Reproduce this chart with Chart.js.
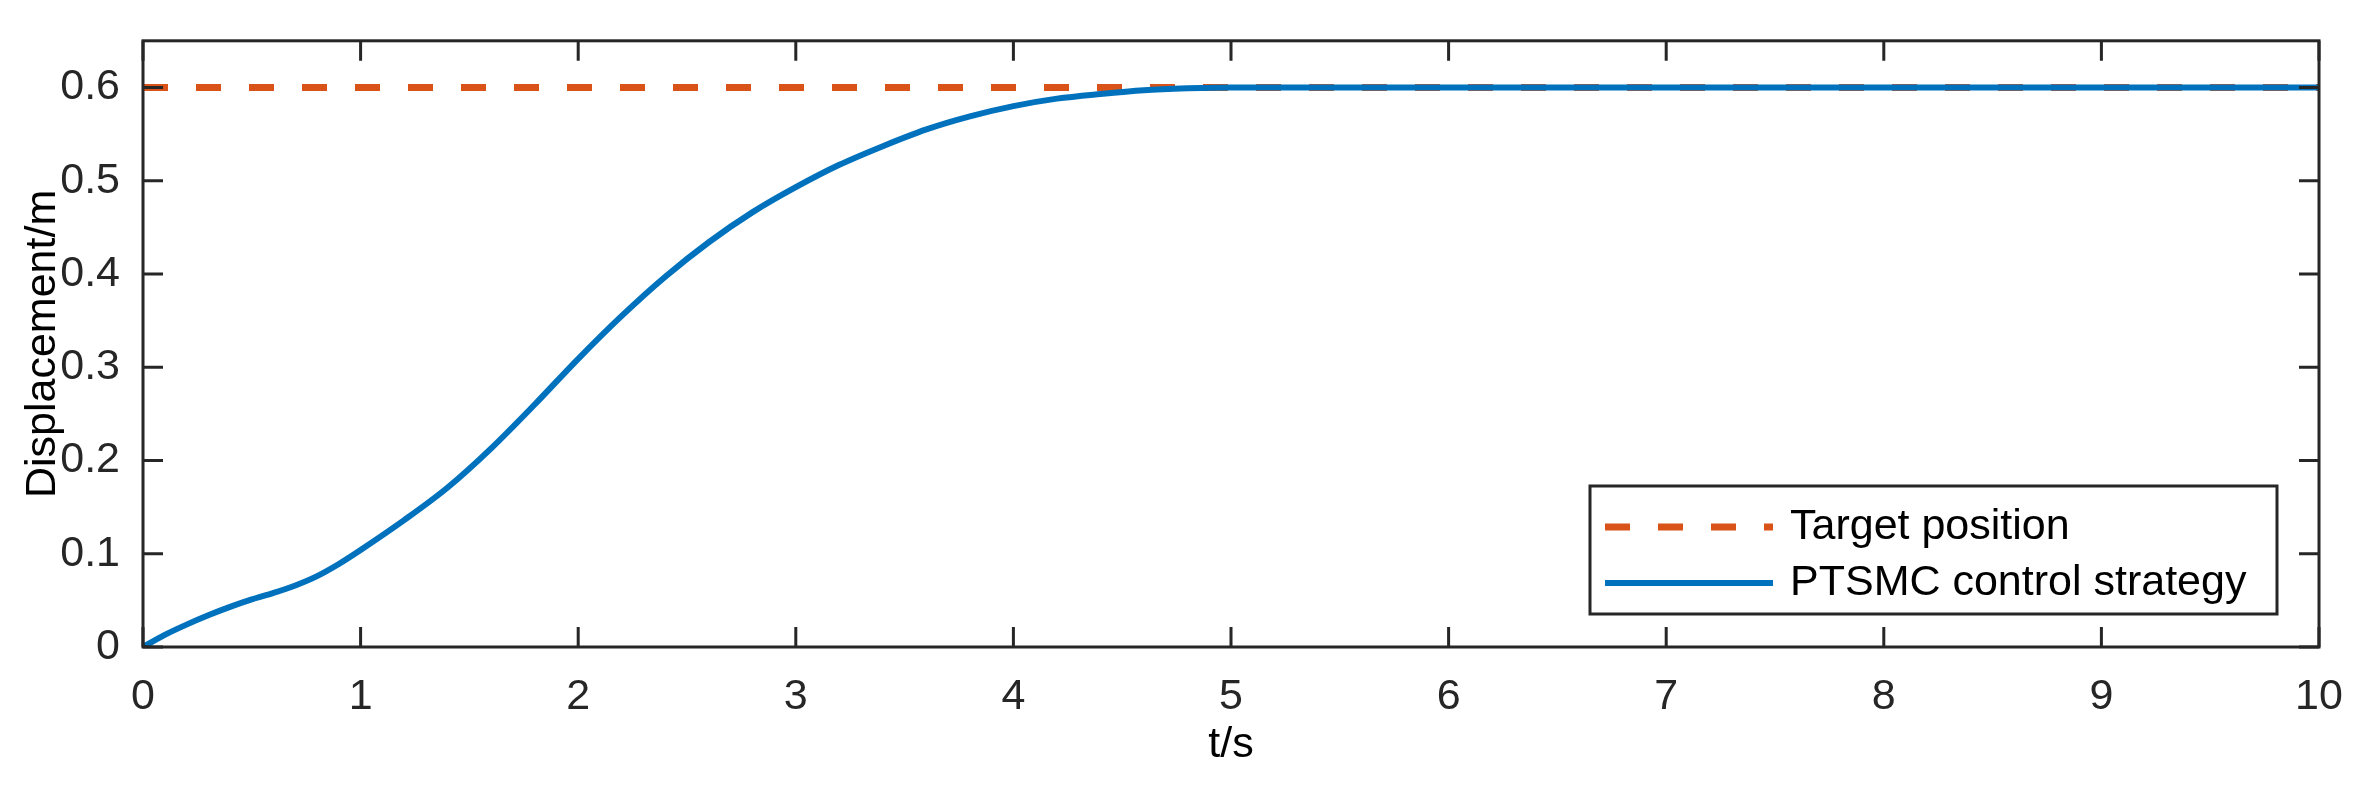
<!DOCTYPE html>
<html>
<head>
<meta charset="utf-8">
<script src="https://cdn.jsdelivr.net/npm/chart.js@4.4.1/dist/chart.umd.min.js"></script>
<style>
  html, body { margin: 0; padding: 0; background: #fff; }
  #wrap { width: 2375px; height: 799px; }
</style>
</head>
<body>
<div id="wrap"><canvas id="myChart" width="2375" height="799"></canvas></div>
<script>
// datos: tiempo (s) y desplazamiento (m)
const tiempo = [0, 0.1, 0.2, 0.3, 0.4, 0.5, 0.6, 0.7, 0.8, 0.9, 1.0, 1.2, 1.4, 1.6, 1.8, 2.0, 2.2, 2.4, 2.6, 2.8, 3.0, 3.2, 3.4, 3.6, 3.8, 4.0, 4.2, 4.4, 4.6, 4.8, 5.0, 6, 7, 8, 9, 10];
const desplazamiento = [0, 0.013, 0.024, 0.034, 0.043, 0.051, 0.058, 0.066, 0.076, 0.089, 0.104, 0.136, 0.171, 0.213, 0.26, 0.309, 0.355, 0.397, 0.434, 0.466, 0.493, 0.517, 0.537, 0.555, 0.569, 0.58, 0.588, 0.593, 0.597, 0.599, 0.6, 0.6, 0.6, 0.6, 0.6, 0.6];
// posicion objetivo
const objetivoT = [0, 10];
const objetivoY = [0.6, 0.6];

const xTicks = [0, 1, 2, 3, 4, 5, 6, 7, 8, 9, 10];
const yTicks = [0, 0.1, 0.2, 0.3, 0.4, 0.5, 0.6];
const etiquetas = ['Target position', 'PTSMC control strategy'];

const azul = '#0072BD';
const naranja = '#D95319';
const gris = '#262626';

Chart.defaults.font.family = "'Liberation Sans', Arial, sans-serif";
Chart.defaults.font.size = 43;
Chart.defaults.color = gris;

// caja y marcas hacia adentro (como matlab)
const marco = {
    id: 'marco',
    afterDraw(chart) {
        const {ctx, chartArea: a, scales: {x, y}} = chart;
        ctx.save();
        ctx.strokeStyle = gris;
        ctx.lineWidth = 3;
        ctx.strokeRect(a.left, a.top, a.right - a.left, a.bottom - a.top);
        ctx.beginPath();
        xTicks.forEach(v => {
            const px = x.getPixelForValue(v);
            ctx.moveTo(px, a.bottom); ctx.lineTo(px, a.bottom - 20);
            ctx.moveTo(px, a.top); ctx.lineTo(px, a.top + 20);
        });
        yTicks.forEach(v => {
            const py = y.getPixelForValue(v);
            ctx.moveTo(a.left, py); ctx.lineTo(a.left + 20, py);
            ctx.moveTo(a.right, py); ctx.lineTo(a.right - 20, py);
        });
        ctx.stroke();
        ctx.restore();
    }
};

// leyenda dentro del area
const leyenda = {
    id: 'leyenda',
    afterDraw(chart) {
        const ctx = chart.ctx;
        const box = {left: 1590, top: 486, right: 2277, bottom: 614};
        ctx.save();
        ctx.fillStyle = '#fff';
        ctx.fillRect(box.left, box.top, box.right - box.left, box.bottom - box.top);
        ctx.strokeStyle = gris;
        ctx.lineWidth = 3;
        ctx.strokeRect(box.left, box.top, box.right - box.left, box.bottom - box.top);
        const filas = [527, 583];
        // orden de la leyenda: objetivo primero
        [1, 0].forEach((idx, i) => {
            const ds = chart.data.datasets[idx];
            ctx.beginPath();
            ctx.strokeStyle = ds.borderColor;
            ctx.lineWidth = ds.borderWidth;
            ctx.setLineDash(ds.borderDash || []);
            ctx.moveTo(1605, filas[i]);
            ctx.lineTo(1773, filas[i]);
            ctx.stroke();
            ctx.setLineDash([]);
            ctx.fillStyle = '#000';
            ctx.font = "43px 'Liberation Sans', Arial, sans-serif";
            ctx.textBaseline = 'middle';
            ctx.fillText(ds.label, 1790, filas[i]);
        });
        ctx.restore();
    }
};

const ctx = document.getElementById('myChart').getContext('2d');
const myChart = new Chart(ctx, {
    type: 'line',
    data: {
        datasets: [{
            label: etiquetas[1],
            data: tiempo.map((t, i) => ({x: t, y: desplazamiento[i]})),
            borderColor: azul,
            borderWidth: 6,
            pointRadius: 0,
            cubicInterpolationMode: 'monotone',
            order: 0
        }, {
            label: etiquetas[0],
            data: objetivoT.map((t, i) => ({x: t, y: objetivoY[i]})),
            borderColor: naranja,
            borderWidth: 7,
            borderDash: [25, 28],
            pointRadius: 0,
            order: 1
        }]
    },
    options: {
        responsive: false,
        animation: false,
        devicePixelRatio: 1,
        layout: {padding: {top: 33, right: 56, left: 0, bottom: 0}},
        plugins: {legend: {display: false}, tooltip: {enabled: false}},
        scales: {
            x: {
                type: 'linear',
                min: 0,
                max: 10,
                afterBuildTicks: s => { s.ticks = xTicks.map(v => ({value: v})); },
                afterFit: s => { s.height = 152; },
                grid: {display: false},
                border: {display: false},
                ticks: {padding: 16, maxRotation: 0, callback: v => String(v)},
                title: {display: true, text: 't/s', color: '#000', padding: {top: 0, bottom: 28}}
            },
            y: {
                type: 'linear',
                min: 0,
                max: 0.65,
                afterBuildTicks: s => { s.ticks = yTicks.map(v => ({value: v})); },
                afterFit: s => { s.width = 143; },
                grid: {display: false},
                border: {display: false},
                ticks: {padding: 15, callback: v => v === 0 ? '0' : v.toFixed(1)},
                title: {display: true, text: 'Displacement/m', color: '#000', padding: {top: 17, bottom: 0}}
            }
        }
    },
    plugins: [marco, leyenda]
});
</script>
</body>
</html>
